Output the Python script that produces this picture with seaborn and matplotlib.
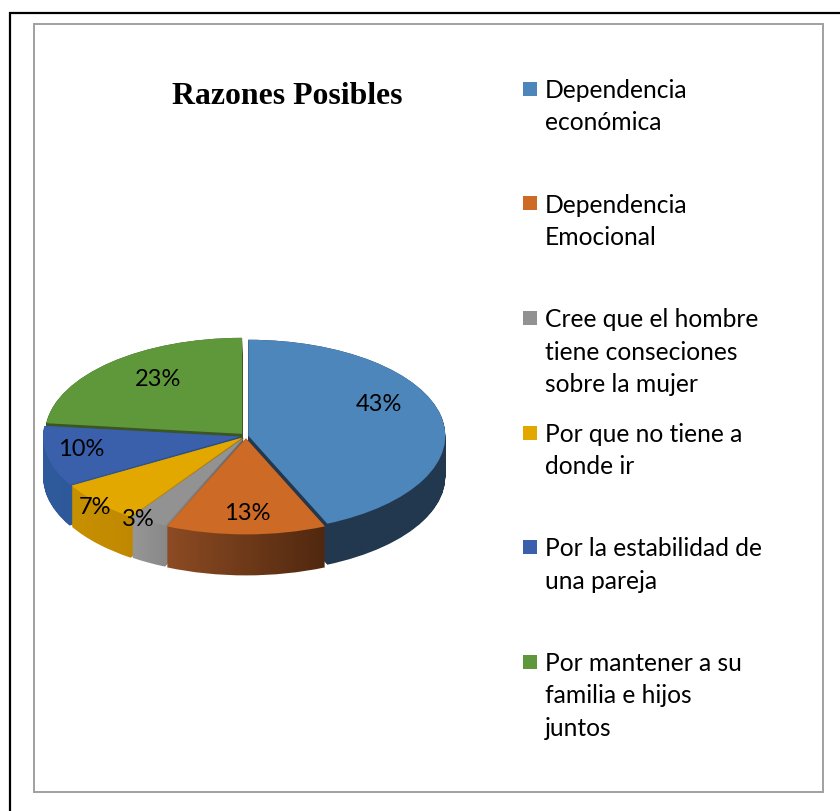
import numpy as np
import seaborn as sns
import matplotlib
matplotlib.use("Agg")
import matplotlib.pyplot as plt
from matplotlib.patches import Rectangle, Wedge
from matplotlib.path import Path
from matplotlib.transforms import Affine2D
from matplotlib.legend_handler import HandlerPatch

title = "Razones Posibles"
categories = ["Dependencia\neconómica", "Dependencia\nEmocional",
              "Cree que el hombre\ntiene conseciones\nsobre la mujer",
              "Por que no tiene a\ndonde ir", "Por la estabilidad de\nuna pareja",
              "Por mantener a su\nfamilia e hijos\njuntos"]
values = [43, 13, 3, 7, 10, 23]
top_colors = ["#4C86BA", "#CC6A26", "#929292", "#E2A800", "#3A60AC", "#5F983B"]
side_left = ["#22384F", "#8C4B23", "#969696", "#C89100", "#2F5A9C", "#3C5523"]
side_right = ["#22384F", "#50280F", "#696969", "#AF7800", "#264F8C", "#3C5523"]
explode = [0.012, 0.025, 0.02, 0.025, 0.03, 0.03]
label_px = [(379, 405), (247, 514), (138, 520), (95, 508), (81, 450), (158, 380)]

W, H = 840, 812
sns.set_theme(style="white")
plt.rcParams["font.family"] = ["Lato", "DejaVu Sans"]
palette = sns.color_palette(top_colors)

fig = plt.figure(figsize=(W / 100, H / 100), dpi=100, facecolor="white")

# page frames
fig.add_artist(Rectangle((9.5 / W, -0.1), 1.1, 1.1 - 13.5 / H, transform=fig.transFigure,
                         fill=False, ec="black", lw=1.6))
fig.add_artist(Rectangle((33.5 / W, 1 - 792.5 / H), 789 / W, 768 / H, transform=fig.transFigure,
                         fill=False, ec="#a0a0a0", lw=1.4))

# pie axes: unit radius maps to 197 x 96 pixels
RX, RY = 197, 96
CX, CY = 246, 437
XL, YB, YT = 1.2, -1.65, 1.2
ax = fig.add_axes([(CX - XL * RX) / W, 1 - (CY - YB * RY) / H, 2 * XL * RX / W, (YT - YB) * RY / H])
wedges, _ = ax.pie(values, colors=palette, startangle=90, counterclock=False,
                   explode=explode, radius=1, wedgeprops=dict(linewidth=0))
depth = 41 / RY
side_order = [5, 0, 4, 3, 2, 1]
for z, i in enumerate(side_order):
    w = wedges[i]
    w.set_zorder(20 + i)
    p0 = w.get_path().transformed(w.get_patch_transform())
    paths = [p0.transformed(Affine2D().translate(0, -d)) for d in np.linspace(0, depth, 42)]
    clip = Path.make_compound_path(*paths)
    x0, x1 = p0.vertices[:, 0].min(), p0.vertices[:, 0].max()
    t = np.clip((np.linspace(-XL, XL, 512) - x0) / (x1 - x0), 0, 1)[None, :, None]
    c0 = np.array(matplotlib.colors.to_rgb(side_left[i]))
    c1 = np.array(matplotlib.colors.to_rgb(side_right[i]))
    img = ax.imshow(c0 + (c1 - c0) * t, extent=(-XL, XL, YB, YT), aspect="auto",
                    zorder=5 + z, interpolation="bilinear")
    img.set_clip_path(clip, ax.transData)
ax.set_xlim(-XL, XL)
ax.set_ylim(YB, YT)
ax.set_aspect("auto")
ax.axis("off")

# percentage labels
for v, (px, py) in zip(values, label_px):
    fig.text(px / W, 1 - py / H, f"{v}%", ha="center", va="center", fontsize=17, color="black")

fig.text(287 / W, 1 - 96 / H, title, ha="center", va="center", fontsize=22.9, fontweight="bold",
         family="Liberation Serif", color="black")


# legend: each entry padded to three lines so entries are evenly spaced
def first_line_square(legend, orig_handle, xdescent, ydescent, width, height, fontsize):
    s = 14 * 72 / 100
    return Rectangle((width - s, 1.45 * fontsize), s, s)


labels = [c + "\n " * (2 - c.count("\n")) for c in categories]
leg = fig.legend(wedges, labels, loc="upper left", bbox_to_anchor=(512 / W, 1 - 79 / H),
                 bbox_transform=fig.transFigure, frameon=False, fontsize=17.7, borderpad=0,
                 borderaxespad=0, labelspacing=1.08, handlelength=1.0, handletextpad=0.35,
                 handler_map={Wedge: HandlerPatch(patch_func=first_line_square)})
for t in leg.get_texts():
    t.set_linespacing(1.5)
    t.set_color("black")

fig.savefig("out.png", dpi=100, facecolor="white")
